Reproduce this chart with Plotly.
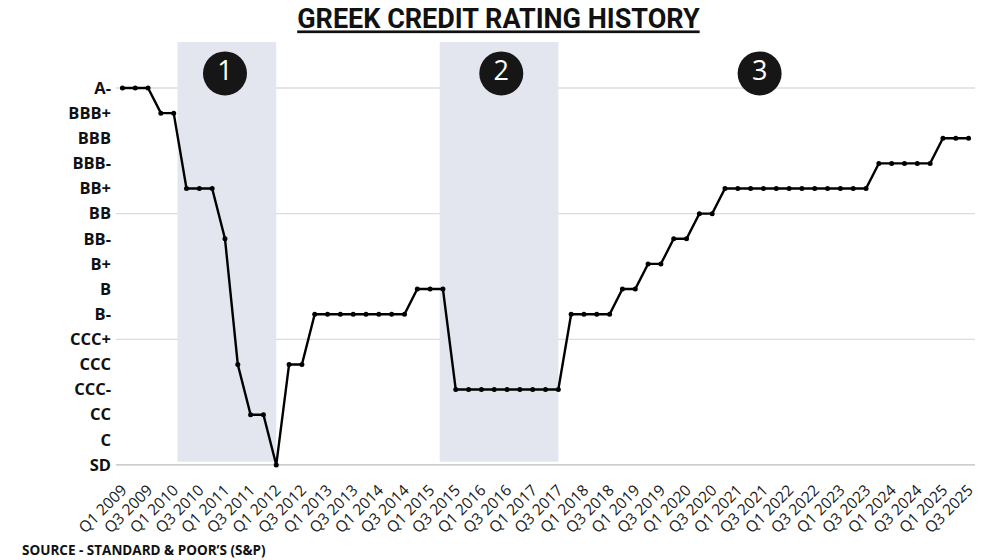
import plotly.graph_objects as go

# S&P rating scale, lowest to highest
rating_scale = ["SD", "C", "CC", "CCC-", "CCC", "CCC+", "B-", "B", "B+",
                "BB-", "BB", "BB+", "BBB-", "BBB", "BBB+", "A-"]

# Quarter labels, Q1 2009 .. Q3 2025
quarters = [
    "Q1 2009", "Q2 2009", "Q3 2009", "Q4 2009",
    "Q1 2010", "Q2 2010", "Q3 2010", "Q4 2010",
    "Q1 2011", "Q2 2011", "Q3 2011", "Q4 2011",
    "Q1 2012", "Q2 2012", "Q3 2012", "Q4 2012",
    "Q1 2013", "Q2 2013", "Q3 2013", "Q4 2013",
    "Q1 2014", "Q2 2014", "Q3 2014", "Q4 2014",
    "Q1 2015", "Q2 2015", "Q3 2015", "Q4 2015",
    "Q1 2016", "Q2 2016", "Q3 2016", "Q4 2016",
    "Q1 2017", "Q2 2017", "Q3 2017", "Q4 2017",
    "Q1 2018", "Q2 2018", "Q3 2018", "Q4 2018",
    "Q1 2019", "Q2 2019", "Q3 2019", "Q4 2019",
    "Q1 2020", "Q2 2020", "Q3 2020", "Q4 2020",
    "Q1 2021", "Q2 2021", "Q3 2021", "Q4 2021",
    "Q1 2022", "Q2 2022", "Q3 2022", "Q4 2022",
    "Q1 2023", "Q2 2023", "Q3 2023", "Q4 2023",
    "Q1 2024", "Q2 2024", "Q3 2024", "Q4 2024",
    "Q1 2025", "Q2 2025", "Q3 2025",
]

# Greece long-term rating at each quarter
ratings = [
    "A-", "A-", "A-", "BBB+",
    "BBB+", "BB+", "BB+", "BB+",
    "BB-", "CCC", "CC", "CC",
    "SD", "CCC", "CCC", "B-",
    "B-", "B-", "B-", "B-",
    "B-", "B-", "B-", "B",
    "B", "B", "CCC-", "CCC-",
    "CCC-", "CCC-", "CCC-", "CCC-",
    "CCC-", "CCC-", "CCC-", "B-",
    "B-", "B-", "B-", "B",
    "B", "B+", "B+", "BB-",
    "BB-", "BB", "BB", "BB+",
    "BB+", "BB+", "BB+", "BB+",
    "BB+", "BB+", "BB+", "BB+",
    "BB+", "BB+", "BB+", "BBB-",
    "BBB-", "BBB-", "BBB-", "BBB-",
    "BBB", "BBB", "BBB",
]

# Labelled crisis / recovery periods (quarter index units)
period_labels = ["1", "2", "3"]
shaded_periods = [(4.3, 12.0), (24.75, 34.0)]
period_label_x = [8.0, 29.55, 49.7]

x_idx = list(range(len(quarters)))
y_val = [rating_scale.index(r) for r in ratings]

fig = go.Figure()

# shaded periods
for x0, x1 in shaded_periods:
    fig.add_shape(type="rect", xref="x", yref="y", x0=x0, x1=x1, y0=0.13, y1=16.83,
                  fillcolor="#e3e6ef", line=dict(width=0), layer="below")

# horizontal grid lines every five notches
for lvl in [0, 5, 10, 15]:
    fig.add_shape(type="line", xref="paper", yref="y", x0=0, x1=1, y0=lvl, y1=lvl,
                  line=dict(color="#bdbdbd" if lvl == 0 else "#dcdcdc", width=1.3),
                  layer="below")

fig.add_trace(go.Scatter(
    x=x_idx, y=y_val, mode="lines+markers",
    line=dict(color="#000000", width=2.4),
    marker=dict(color="#000000", size=5),
    cliponaxis=False, hoverinfo="skip", showlegend=False,
))

# numbered period badges
fig.add_trace(go.Scatter(
    x=period_label_x, y=[15.58] * len(period_labels), mode="markers+text",
    marker=dict(color="#161616", size=44, line=dict(width=0)),
    text=period_labels, textposition="middle center",
    textfont=dict(color="white", size=27, family="Open Sans"),
    cliponaxis=False, hoverinfo="skip", showlegend=False,
))

fig.update_layout(
    width=987, height=560,
    margin=dict(l=116, r=12, t=38, b=87, autoexpand=False),
    paper_bgcolor="white", plot_bgcolor="white",
    title=dict(text="<u><b>GREEK CREDIT RATING HISTORY</b></u>",
               font=dict(family="Roboto", size=27, color="#111111"),
               xref="container", x=0.505, xanchor="center",
               yref="container", y=1 - 19 / 560, yanchor="middle"),
    xaxis=dict(range=[-0.5, 66.5], tickmode="array", automargin=False,
               tickvals=x_idx[::2], ticktext=quarters[::2],
               tickangle=-45, showgrid=False, zeroline=False, showline=False,
               ticks="", ticklabelstandoff=4,
               tickfont=dict(family="Open Sans", size=15.5, color="#1a1a1a")),
    yaxis=dict(range=[-0.32, 16.99], tickmode="array", automargin=False,
               tickvals=list(range(len(rating_scale))), ticktext=rating_scale,
               showgrid=False, zeroline=False, showline=False, ticks="",
               ticklabelstandoff=4,
               tickfont=dict(family="Open Sans", size=16.5, color="#111111", weight="bold")),
    annotations=[dict(
        text="<b>SOURCE - STANDARD &amp; POOR’S (S&amp;P)</b>",
        xref="paper", yref="paper", x=(20 - 116) / 859, y=(473 - 550) / 435,
        xanchor="left", yanchor="middle", showarrow=False,
        font=dict(family="Open Sans", size=13.5, color="#111111"),
    )],
)

fig.write_html("out.html")
